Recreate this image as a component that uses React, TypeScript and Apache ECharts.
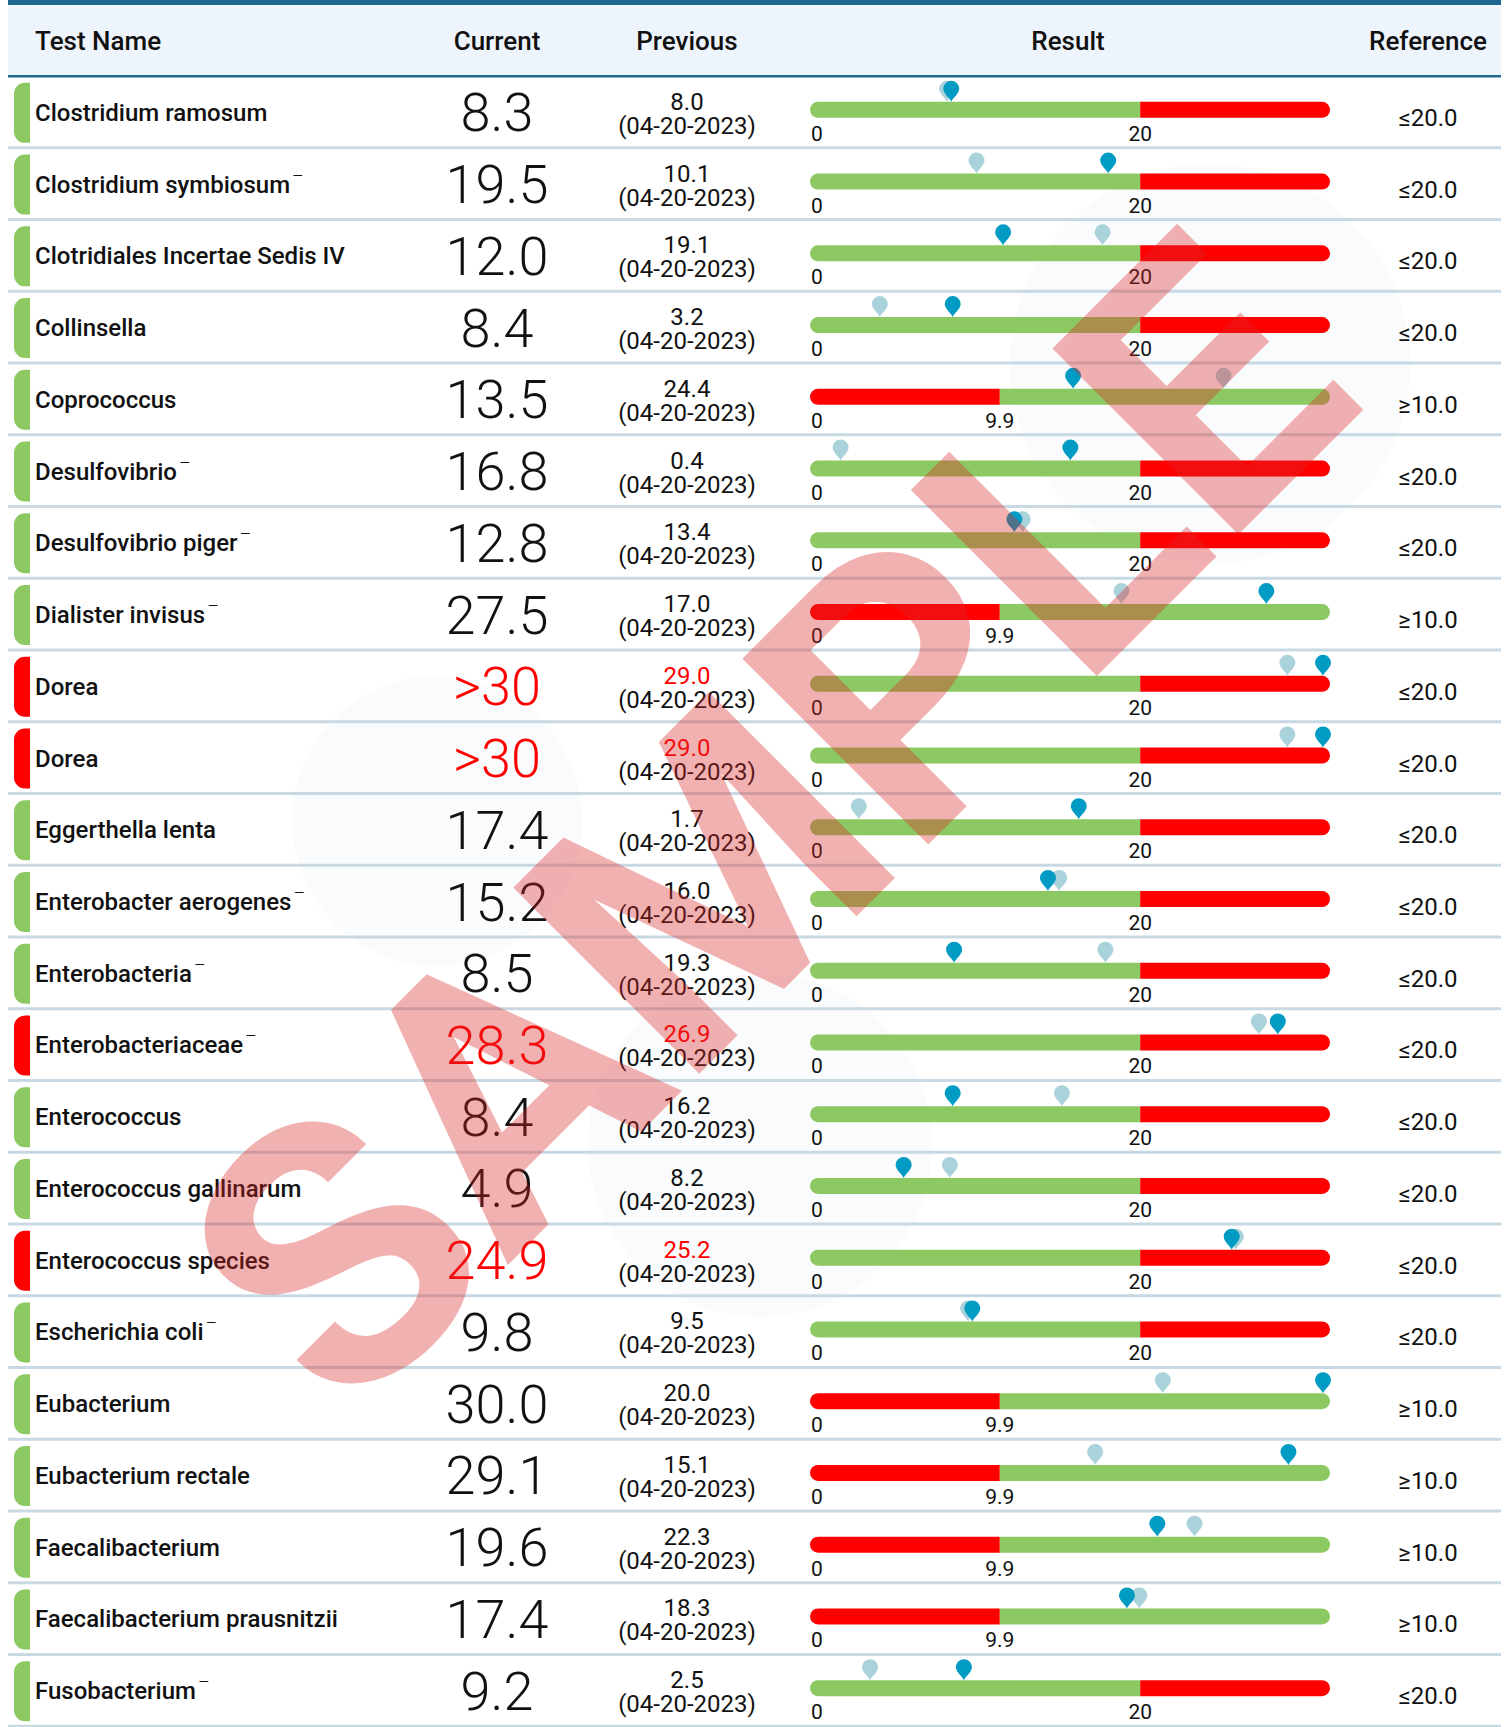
import React, { useEffect, useRef } from "react";
import * as echarts from "echarts";

// ---------------- data ----------------
const testNames = [
  "Clostridium ramosum",
  "Clostridium symbiosum⁻",
  "Clotridiales Incertae Sedis IV",
  "Collinsella",
  "Coprococcus",
  "Desulfovibrio⁻",
  "Desulfovibrio piger⁻",
  "Dialister invisus⁻",
  "Dorea",
  "Dorea",
  "Eggerthella lenta",
  "Enterobacter aerogenes⁻",
  "Enterobacteria⁻",
  "Enterobacteriaceae⁻",
  "Enterococcus",
  "Enterococcus gallinarum",
  "Enterococcus species",
  "Escherichia coli⁻",
  "Eubacterium",
  "Eubacterium rectale",
  "Faecalibacterium",
  "Faecalibacterium prausnitzii",
  "Fusobacterium⁻",
];
const currentResults = [
  "8.3", "19.5", "12.0", "8.4", "13.5", "16.8", "12.8", "27.5", ">30", ">30", "17.4", "15.2",
  "8.5", "28.3", "8.4", "4.9", "24.9", "9.8", "30.0", "29.1", "19.6", "17.4", "9.2",
];
const previousResults = [
  8.0, 10.1, 19.1, 3.2, 24.4, 0.4, 13.4, 17.0, 29.0, 29.0, 1.7, 16.0,
  19.3, 26.9, 16.2, 8.2, 25.2, 9.5, 20.0, 15.1, 22.3, 18.3, 2.5,
];
const PREVIOUS_DATE = "04-20-2023";
const referenceKinds = [
  "le", "le", "le", "le", "ge", "le", "le", "ge", "le", "le", "le", "le",
  "le", "le", "le", "le", "le", "le", "ge", "ge", "ge", "ge", "le",
];
const referenceLimits = [
  20, 20, 20, 20, 10, 20, 20, 10, 20, 20, 20, 20,
  20, 20, 20, 20, 20, 20, 10, 10, 10, 10, 20,
];
const headerLabels = ["Test Name", "Current", "Previous", "Result", "Reference"];
const WATERMARK = "SAMPLE";
const SCALE_MAX = 30.3; // top of the gauge scale
const OVERFLOW_AT = 30; // values at/above are pinned to the end of the bar

// ---------------- style / layout ----------------
const FONT = "Roboto, 'Noto Sans', sans-serif";
const GREEN = "#8dc963";
const RED = "#ff0000";
const TEXT = "#111111";
const DARK_BLUE = "#1f6690";
const HEADER_BG = "#edf4fc";
const SEP = "#c8d9e4";
const PIN_CUR = "#019bc3";
const PIN_PREV = "#aad2da";
const FAINT = "#fafbfc";
const ROW_H = 72;
const TABLE_TOP = 77;
const BAR_LEFT = 810;
const BAR_W = 520;
const BAR_H = 16;
const NORMAL_FRAC = 63.5; // % of bar taken by the normal range
const PAD_PCT = (25 / BAR_W) * 100;
const END_PCT = 100 - (7 / BAR_W) * 100;
const COL_NAME = 35;
const COL_CUR = 497;
const COL_PREV = 687;
const COL_REF = 1428;
const PIN_PATH = "M8,21 C6.5,17 0,13 0,8 A8,8 0 1 1 16,8 C16,13 9.5,17 8,21 Z";

function parseResult(s: string): number {
  if (s.startsWith(">")) return parseFloat(s.slice(1)) + 0.01;
  return parseFloat(s);
}
function isAbnormal(v: number, kind: string, limit: number) {
  return kind === "le" ? v > limit : v < limit;
}
function segmentsFor(kind: string, limit: number) {
  if (kind === "le")
    return [
      { lo: 0, hi: limit, a: 0, b: NORMAL_FRAC, color: GREEN },
      { lo: limit, hi: SCALE_MAX, a: NORMAL_FRAC, b: 100, color: RED },
    ];
  return [
    { lo: 0, hi: limit, a: 0, b: 100 - NORMAL_FRAC, color: RED },
    { lo: limit, hi: SCALE_MAX, a: 100 - NORMAL_FRAC, b: 100, color: GREEN },
  ];
}
// piecewise gauge scale: value -> percent along the bar
function gaugePos(v: number, kind: string, limit: number) {
  if (v >= OVERFLOW_AT) return END_PCT;
  const segs = segmentsFor(kind, limit);
  const s = v < segs[0].hi ? segs[0] : segs[1];
  const t = (v - s.lo) / (s.hi - s.lo);
  return s.a + PAD_PCT + t * (s.b - s.a - 2 * PAD_PCT);
}
function richName(name: string) {
  const sup = "⁻";
  if (name.endsWith(sup)) return "{n|" + name.slice(0, -1) + "}{s|" + sup + "}";
  return "{n|" + name + "}";
}

export default function App() {
  const ref = useRef<HTMLDivElement>(null);
  useEffect(() => {
    if (!ref.current) return;
    const chart = echarts.init(ref.current, null, { renderer: "svg" });
    const n = testNames.length;
    const rows = testNames.map((_, i) => [0, i]);
    const cats = testNames.map((_, i) => String(i));

    const tableItem = (params: any, api: any) => {
      const i = api.value(1) as number;
      const cy = api.coord([0, i])[1];
      const top = cy - ROW_H / 2;
      const kind = referenceKinds[i];
      const limit = referenceLimits[i];
      const cur = parseResult(currentResults[i]);
      const curBad = isAbnormal(cur, kind, limit);
      const prev = previousResults[i];
      const prevBad = isAbnormal(prev, kind, limit);
      const refText = (kind === "le" ? "≤" : "≥") + limit.toFixed(1);
      return {
        type: "group",
        children: [
          { type: "rect", shape: { x: 8, y: top + ROW_H - 2.5, width: 1493, height: 3 }, style: { fill: SEP } },
          { type: "rect", shape: { x: 14, y: cy - 30, width: 16, height: 60, r: [11, 0, 0, 11] }, style: { fill: curBad ? RED : GREEN } },
          {
            type: "text",
            style: {
              text: richName(testNames[i]),
              x: COL_NAME,
              y: cy,
              align: "left",
              verticalAlign: "middle",
              rich: {
                n: { fill: TEXT, fontSize: 24, fontWeight: 500, fontFamily: FONT, lineHeight: 33, verticalAlign: "middle" },
                s: { fill: TEXT, fontSize: 22, fontWeight: 500, fontFamily: "'DejaVu Sans', sans-serif", lineHeight: 24, verticalAlign: "top", padding: [0, 0, 0, 2] },
              },
            },
          },
          {
            type: "text",
            style: { text: currentResults[i], x: COL_CUR, y: cy, fill: curBad ? RED : TEXT, fontSize: 54, fontWeight: 300, fontFamily: FONT, align: "center", verticalAlign: "middle" },
          },
          {
            type: "text",
            style: {
              text: "{v|" + prev.toFixed(1) + "}\n{d|(" + PREVIOUS_DATE + ")}",
              x: COL_PREV,
              y: cy + 1,
              align: "center",
              verticalAlign: "middle",
              rich: {
                v: { fill: prevBad ? RED : TEXT, fontSize: 24, fontFamily: FONT, lineHeight: 24, align: "center" },
                d: { fill: TEXT, fontSize: 24, fontFamily: FONT, lineHeight: 24, align: "center" },
              },
            },
          },
          {
            type: "text",
            style: { text: refText, x: COL_REF, y: cy + 5, fill: TEXT, fontSize: 24, fontFamily: FONT, align: "center", verticalAlign: "middle" },
          },
        ],
      };
    };

    const gaugeItem = (params: any, api: any) => {
      const i = api.value(1) as number;
      const kind = referenceKinds[i];
      const limit = referenceLimits[i];
      const segs = segmentsFor(kind, limit);
      const cy = api.coord([0, i])[1] - 3;
      const x0 = api.coord([0, i])[0];
      const xb = api.coord([segs[0].b, i])[0];
      const x1 = api.coord([100, i])[0];
      const r = BAR_H / 2;
      const barTop = cy - BAR_H / 2;
      const pin = (v: number, color: string) => {
        const px = api.coord([gaugePos(v, kind, limit), i])[0];
        return {
          type: "path",
          shape: { pathData: PIN_PATH, x: px - 8, y: barTop - 21, width: 16, height: 21 },
          style: { fill: color },
        };
      };
      const boundaryLabel = kind === "le" ? String(limit) : (limit - 0.1).toFixed(1);
      return {
        type: "group",
        children: [
          { type: "rect", shape: { x: x0, y: barTop, width: xb - x0, height: BAR_H, r: [r, 0, 0, r] }, style: { fill: segs[0].color } },
          { type: "rect", shape: { x: xb, y: barTop, width: x1 - xb, height: BAR_H, r: [0, r, r, 0] }, style: { fill: segs[1].color } },
          { type: "text", style: { text: "0", x: x0 + 1, y: cy + 24, fill: TEXT, fontSize: 21, fontFamily: FONT, align: "left", verticalAlign: "middle" } },
          { type: "text", style: { text: boundaryLabel, x: xb, y: cy + 24, fill: TEXT, fontSize: 21, fontFamily: FONT, align: "center", verticalAlign: "middle" } },
          pin(previousResults[i], PIN_PREV),
          pin(parseResult(currentResults[i]), PIN_CUR),
        ],
      };
    };

    const headerX = [COL_NAME, COL_CUR, COL_PREV, 1068, COL_REF];
    const headerAlign = ["left", "center", "center", "center", "center"];
    const faintCircles = [
      [1210, 364, 200],
      [437, 821, 145],
      [760, 1145, 172],
    ];

    chart.setOption({
      animation: false,
      grid: [
        { left: 0, width: 1509, top: TABLE_TOP, height: ROW_H * n },
        { left: BAR_LEFT, width: BAR_W, top: TABLE_TOP, height: ROW_H * n },
      ],
      xAxis: [
        { type: "value", gridIndex: 0, min: 0, max: 1, show: false },
        { type: "value", gridIndex: 1, min: 0, max: 100, show: false },
      ],
      yAxis: [
        { type: "category", gridIndex: 0, data: cats, inverse: true, show: false },
        { type: "category", gridIndex: 1, data: cats, inverse: true, show: false },
      ],
      graphic: {
        elements: [
          ...faintCircles.map(([cx, cy, r]) => ({
            type: "circle",
            z: 0,
            shape: { cx, cy, r },
            style: { fill: FAINT },
          })),
          { type: "rect", z: 1, shape: { x: 8, y: 0, width: 1493, height: 5 }, style: { fill: DARK_BLUE } },
          { type: "rect", z: 1, shape: { x: 8, y: 5, width: 1493, height: 70 }, style: { fill: HEADER_BG } },
          { type: "rect", z: 1, shape: { x: 8, y: 75, width: 1493, height: 2.5 }, style: { fill: DARK_BLUE } },
          ...headerLabels.map((h, k) => ({
            type: "text",
            z: 2,
            x: headerX[k],
            y: 41,
            style: {
              text: h,
              fill: TEXT,
              fontSize: 26,
              fontWeight: 500,
              fontFamily: FONT,
              align: headerAlign[k],
              verticalAlign: "middle",
            },
          })),
          {
            type: "text",
            z: 100,
            x: 768,
            y: 826,
            rotation: (45 * Math.PI) / 180,
            style: {
              text: WATERMARK,
              fill: "rgba(220,40,40,0.36)",
              fontSize: 370,
              fontWeight: "bold",
              fontFamily: "Roboto, 'Liberation Sans', sans-serif",
              align: "center",
              verticalAlign: "middle",
            },
          },
        ],
      },
      series: [
        {
          type: "custom",
          name: "table",
          xAxisIndex: 0,
          yAxisIndex: 0,
          clip: false,
          data: rows,
          renderItem: tableItem,
          z: 3,
        },
        {
          type: "custom",
          name: "result",
          xAxisIndex: 1,
          yAxisIndex: 1,
          clip: false,
          data: rows,
          renderItem: gaugeItem,
          z: 4,
        },
      ],
    });
    return () => chart.dispose();
  }, []);
  return (
    <div
      ref={ref}
      style={{ position: "absolute", left: 0, top: 0, width: 1509, height: 1727, background: "#ffffff" }}
    />
  );
}
